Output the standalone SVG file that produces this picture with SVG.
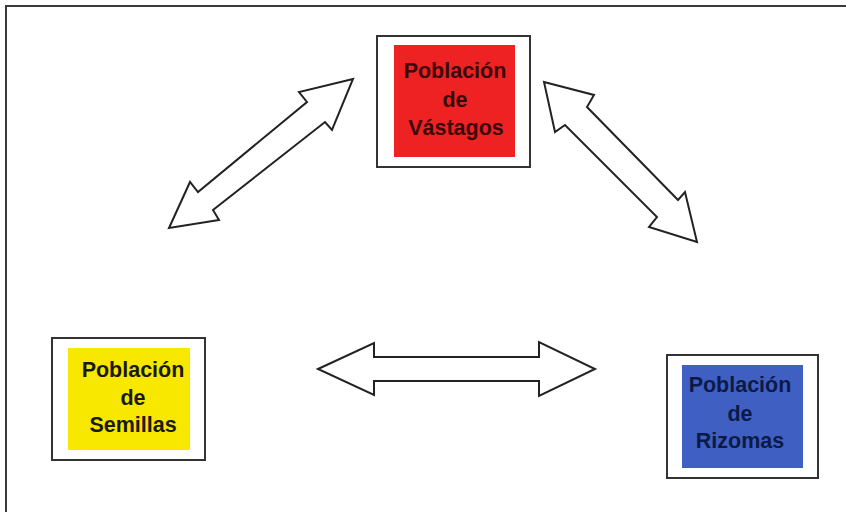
<svg xmlns="http://www.w3.org/2000/svg" width="846" height="512" viewBox="0 0 846 512">
<style>
.frame{fill:none;stroke:#3a3a3a;stroke-width:2}
.outer{fill:#ffffff;stroke:#333333;stroke-width:2}
.lbl{font-family:"Liberation Sans",Arial,sans-serif;font-weight:bold;font-size:21.5px;text-anchor:middle}
.arrow{fill:#ffffff;stroke:#222222;stroke-width:2;stroke-linejoin:miter}
</style>
<rect width="846" height="512" fill="#ffffff"/>
<path class="frame" d="M6,512 V6 H846"/>
<g id="node-vastagos">
<rect class="outer" x="377" y="36" width="153" height="131"/>
<rect x="394" y="45" width="121" height="112" fill="#ee2222"/>
<text class="lbl" fill="#3a0808"><tspan x="455" y="78">Población</tspan><tspan x="455" y="107">de</tspan><tspan x="456" y="135">Vástagos</tspan></text>
</g>
<g id="node-semillas">
<rect class="outer" x="52" y="338" width="153" height="122"/>
<rect x="68" y="348" width="122" height="102" fill="#f8e800"/>
<text class="lbl" fill="#1a1a08"><tspan x="133" y="377">Población</tspan><tspan x="133" y="405">de</tspan><tspan x="133" y="432">Semillas</tspan></text>
</g>
<g id="node-rizomas">
<rect class="outer" x="667" y="355" width="151" height="123"/>
<rect x="682" y="365" width="121" height="103" fill="#3f5fc2"/>
<text class="lbl" fill="#0c1a48"><tspan x="740" y="392">Población</tspan><tspan x="740" y="421">de</tspan><tspan x="740" y="448">Rizomas</tspan></text>
</g>
<g id="connectors">
<polygon class="arrow" points="353,79 299,92 307,102 198,192 190,182 169,228 219,220 213,210 325,122 332,130"/>
<polygon class="arrow" points="544,82 594,95 587,107 678,200 685,192 697,242 649,227 657,217 565,125 555,132"/>
<polygon class="arrow" points="318,369 374,343 374,357 539,357 539,342 595,369 539,396 539,381 374,381 374,395"/>
</g>
</svg>
